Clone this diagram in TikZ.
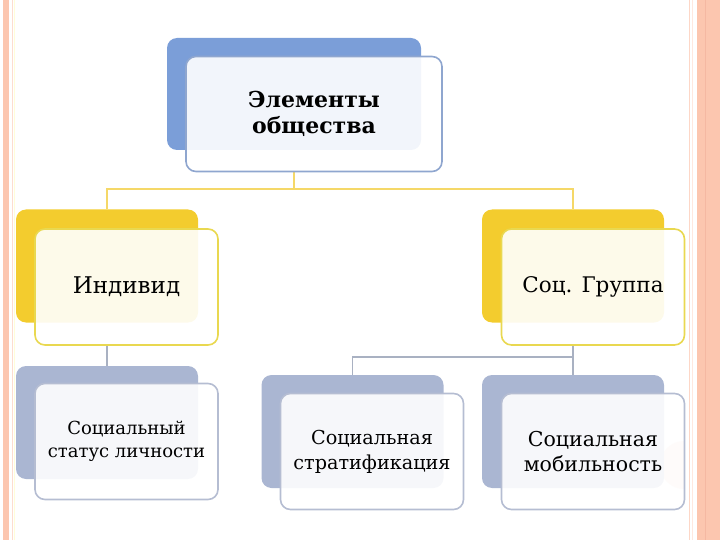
\documentclass[tikz,border=0pt]{standalone}
\usepackage{fontspec}
\setmainfont{DejaVu Serif}
\usetikzlibrary{positioning, backgrounds}

\definecolor{topblue}{HTML}{7B9ED8}
\definecolor{topedge}{HTML}{8FA6CF}
\definecolor{gold}{HTML}{F3CC2E}
\definecolor{goldedge}{HTML}{E9D850}
\definecolor{slate}{HTML}{AAB6D2}
\definecolor{slateedge}{HTML}{B5BDD2}
\definecolor{salmon}{HTML}{FCC6AF}
\definecolor{yline}{HTML}{F5D868}
\definecolor{gline}{HTML}{A9B1C2}

\begin{document}
\begin{tikzpicture}[x=1pt, y=-1pt, thick,
    backbox/.style={rectangle, rounded corners=10pt, minimum width=182pt, minimum height=113pt, inner sep=0pt},
    frontbox/.style={draw, rectangle, rounded corners=10pt, line width=1.6pt, fill=white, fill opacity=0.9, text opacity=1,
        minimum width=183pt, minimum height=116pt, align=center, inner sep=0pt},
    yellowline/.style={draw=yline, line width=1.3pt},
    grayline/.style={draw=gline, line width=1.3pt}]

    % Slide frame
    \useasboundingbox (0,0) rectangle (720,540);
    \fill[salmon] (3,0) rectangle (9,540);
    \draw[salmon!60, line width=0.8pt] (12,0) -- (12,540);
    \draw[yellow!15!white, line width=0.8pt] (14.5,0) -- (14.5,540);
    \draw[salmon!70, line width=0.8pt] (689.5,0) -- (689.5,540);
    \draw[salmon!40, line width=0.8pt] (692.7,0) -- (692.7,540);
    \fill[salmon] (697,0) rectangle (720,540);
    \draw[salmon!80!red!90!black, opacity=0.25, line width=0.8pt] (705,0) -- (705,540);
    \begin{scope}
        \clip (655,430) rectangle (684,500);
        \fill[salmon!55] (684,465) circle (24);
    \end{scope}

    % Nodes
    \node[backbox, fill=topblue, minimum width=254pt, minimum height=112pt] (socback) at (294,94) {};
    \node[frontbox, draw=topedge, minimum width=256pt, minimum height=115pt,
        font=\bfseries\fontsize{22}{26}\selectfont] (soc) at (314,114) {Элементы\\общества};

    \node[backbox, fill=gold] (indback) at (107,266) {};
    \node[frontbox, draw=goldedge, font=\fontsize{23}{26}\selectfont] (ind) at (126.5,287) {Индивид};
    \node[backbox, fill=gold] (grpback) at (573,266) {};
    \node[frontbox, draw=goldedge, font=\fontsize{21.5}{26}\selectfont] (grp) at (593,287) {Соц. Группа};

    \node[backbox, fill=slate] (statback) at (107,422.5) {};
    \node[frontbox, draw=slateedge, font=\fontsize{18}{23}\selectfont] (stat) at (126.5,441.5) {Социальный\\статус личности};
    \node[backbox, fill=slate] (stratback) at (352.5,431.5) {};
    \node[frontbox, draw=slateedge, font=\fontsize{19.2}{25}\selectfont] (strat) at (372,451.5) {Социальная\\стратификация};
    \node[backbox, fill=slate] (mobback) at (573,431.5) {};
    \node[frontbox, draw=slateedge, font=\fontsize{20.5}{25}\selectfont] (mob) at (593,451.5) {Социальная\\мобильность};

    \coordinate (topjoin) at (294,189);
    \coordinate (grpjoin) at (573,357);

    % Lines
    \begin{scope}[on background layer]
    \draw[yellowline] (socback |- soc.south) -- (topjoin);
    \draw[yellowline] (indback.north) |- (topjoin) -| (grpback.north);
    \draw[grayline] (indback |- ind.south) -- (statback.north);
    \draw[grayline] (grpback |- grp.south) -- (grpjoin);
    \draw[grayline] (stratback.north) |- (grpjoin) -- (mobback.north);
    \end{scope}
\end{tikzpicture}
\end{document}
